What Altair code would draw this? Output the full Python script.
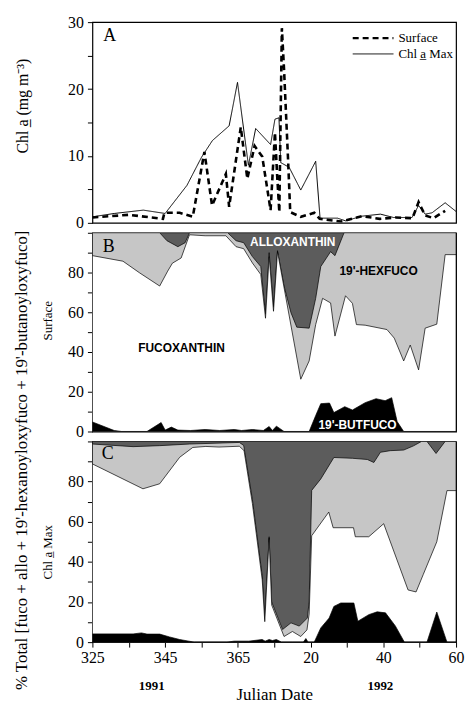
import altair as alt
import pandas as pd

SERIF = "Liberation Serif"
SANS = "Liberation Sans"
LIGHT = "#c6c6c6"
DARK = "#5c5c5c"
W = 366

# x positions are days counted from 1 Jan 1991: 325-365 fall in 1991,
# 366-425 are Julian days 1-60 of 1992.
X_DOMAIN = [325, 425]

# ---- Panel A: chlorophyll a (mg m-3) ----
surface_t = [325, 335, 344.4, 344.8, 349, 352.6, 355.8, 357.9, 361.7, 362.6,
             365.8, 367.6, 369.6, 371.7, 374.0, 375.2, 375.8, 376.4, 377.1, 377.7,
             378.8, 379.4, 382.3, 386.0, 387.5, 393.4, 399.2, 404.0, 408.4, 413.0,
             414.7, 416.5, 418.8, 422.0]
surface_chl = [0.8, 1.2, 0.6, 1.5, 1.5, 0.9, 10.6, 2.6, 7.3, 2.4,
               14.3, 6.6, 11.5, 9.9, 1.9, 13.5, 7.1, 1.6, 29.1, 22.9,
               9.5, 1.6, 0.9, 1.5, 0.6, 0.2, 1.0, 0.6, 0.8, 0.7,
               3.1, 1.1, 0.7, 1.8]

chlmax_t = [325, 331, 339, 345, 351, 355, 358, 362.6, 364.9,
            367.9, 369.9, 374.0, 375.2, 376.3, 376.8, 379.1, 382.3, 386.4, 387.6,
            392.4, 394.6, 399.2, 404.2, 407.8, 412.9, 414.7, 416.5, 418.4, 422, 425]
chlmax_chl = [0.9, 1.4, 1.9, 1.4, 5.6, 9.8, 12.3, 14.5, 21.0,
              8.6, 14.1, 11.7, 15.5, 15.7, 9.0, 8.3, 4.9, 9.2, 0.7,
              0.7, 0.3, 1.0, 1.3, 0.8, 0.8, 2.6, 1.3, 1.5, 3.0, 1.7]

SERIES = ["Surface", "Chl a\u0332 Max"]

# ---- Panels B and C: cumulative % of total [fuco + allo + hexfuco + butfuco] ----
# stacking order from the bottom: butfuco, fucoxanthin, hexfuco, alloxanthin (to 100 %)
total_t = [325, 425]
total_pct = [100, 100]

b_but_t = [325, 331, 333, 340, 343.9, 345, 346.7, 348.5, 352, 356,
           360, 364, 366, 369, 372, 373.6, 374.5, 375.6, 377.7, 384.6,
           386.4, 387.8, 390.2, 391.4, 394.4, 396.5, 400, 403, 405.5, 407.3,
           408.8, 410.6, 425]
b_but_top = [4.8, 0.5, 0, 0, 4.5, 0.7, 2.2, 0.7, 0.5, 1.0,
             0.5, 1.0, 0.5, 1.0, 0.5, 2.5, 0.5, 2.7, 0, 0,
             8, 14, 14.3, 9.5, 12.5, 10.8, 14.5, 16.5, 15.5, 17,
             5, 0, 0]

b_fuco_t = [325, 333.4, 338, 343.5, 345.7, 347, 349.4, 351.7, 356, 361.7,
            364.5, 366.6, 369, 371.3, 372.6, 373.6, 374.8, 375.9, 382.3, 384.6,
            386.4, 388.3, 390.5, 391.7, 394.6, 396.5, 397.6, 400, 406, 408,
            410.6, 412.4, 414.7, 416.5, 419.7, 422, 425]
b_fuco_top = [88.5, 85.7, 79.8, 73.2, 80.7, 84.7, 87.3, 99, 98.5, 98.5,
              93, 92, 84.8, 79, 57, 88, 60.5, 90.5, 26.3, 35.5,
              53.8, 67, 64.7, 48, 68.3, 64.5, 53.8, 53.5, 51.3, 47,
              35.5, 43.5, 31, 52, 54, 89, 89]

b_hex_t = [325, 343.5, 345.5, 348.5, 350.5, 351.7, 362.2, 364.5, 366.6, 369,
           371.3, 372.6, 373.6, 374.8, 375.9, 377.7, 379.6, 381.2, 384.6, 386.4,
           387.8, 390.5, 391.7, 394.2, 425]
b_hex_top = [100, 100, 96, 93, 95, 100, 100, 96, 95, 88,
             83, 59, 90, 62.5, 91, 73.2, 59.8, 52.5, 52, 67,
             83, 90.5, 88.5, 100, 100]

c_but_t = [325, 336.2, 338.5, 340, 343.5, 346.2, 349, 351.5, 353, 362,
           364, 368, 371.7, 372.5, 373.6, 374.5, 375.6, 377, 383, 383.7,
           384.3, 386, 387.8, 390.1, 391.4, 393.3, 396.9, 398, 401, 403.3,
           405.6, 408.3, 410.8, 417, 419.7, 422.5, 425]
c_but_top = [4.1, 4.1, 4.6, 4.0, 4.0, 2.6, 1.3, 0.5, 0, 0,
             0.5, 0.5, 1.3, 0.5, 1.3, 0.8, 1.3, 0, 0, 1.8,
             0, 0, 7.1, 12, 17.8, 19.5, 19.5, 10.4, 13.7, 15.1,
             14.6, 8.1, 0, 0, 15, 0, 0]

c_fuco_t = [325, 338.9, 343.5, 349, 352.6, 356.2, 359.8, 365.4, 366.7, 369,
            371.7, 372.4, 373.6, 374.3, 377.7, 380, 382.3, 384, 384.6, 385.3,
            390, 391.2, 396.8, 397.3, 401, 405.1, 411.8, 414, 416, 419.7,
            422.5, 425]
c_fuco_top = [88.8, 76.4, 78.9, 92.1, 97, 97.5, 97.2, 97.6, 95.4, 69,
              31, 10.2, 51.8, 18.5, 2.8, 5.3, 2.8, 6.1, 14, 53,
              64.8, 57, 57, 52.5, 52.5, 59, 26, 25, 33.8, 50,
              75.5, 75.5]

c_hex_t = [325, 336.2, 343.5, 351.7, 365.4, 366.6, 369, 371.7, 372.4, 373.6,
           374.3, 377.3, 379.6, 381.9, 384.1, 384.6, 385.3, 387.8, 391.4, 396.5,
           400.6, 402.4, 404.2, 406.9, 410.6, 413.3, 415.5, 417, 419.5, 422,
           425]
c_hex_top = [98.7, 97.4, 97.9, 98.7, 99.5, 98, 71, 33, 11.5, 52.5,
             20, 6.3, 9.6, 8, 12, 20, 75.6, 81.3, 92, 91.6,
             91, 89.5, 94.6, 95.4, 95.7, 97.8, 100, 100, 94, 100,
             100]

# pigment names written inside panel B
pig_names = ["FUCOXANTHIN", "ALLOXANTHIN", "19'-HEXFUCO", "19'-BUTFUCO"]
pig_t = [349.5, 380.1, 403.7, 397.9]
pig_pct = [42, 95.5, 81, 3.5]
pig_colors = ["black", "white", "black", "white"]

year_names = ["1991", "1992"]
year_t = [341.3, 404.2]

BIG_TITLE = "% Total [fuco + allo + 19'-hexanoyloxyfuco + 19'-butanoyloxyfuco]"

x_scale = alt.Scale(domain=X_DOMAIN, nice=False, zero=False)
pct_scale = alt.Scale(domain=[0, 100], nice=False)
chl_scale = alt.Scale(domain=[0, 30], nice=False)


def pct_axis(title, title_y):
    return alt.Axis(values=list(range(0, 101, 10)),
                    labelExpr="datum.value % 20 == 0 && datum.value < 100 ? datum.label : ''",
                    tickSize=5, labelPadding=4, labelFont=SERIF, labelFontSize=16,
                    labelOverlap=False,
                    title=title, titleFont=SERIF, titleFontSize=13,
                    titleFontWeight="normal", titleX=-45.5, titleY=title_y,
                    titleAngle=270, titleAlign="center", titleBaseline="middle")


x_axis_c = alt.Axis(values=list(range(325, 426, 10)),
                    labelExpr="(datum.value - 325) % 20 == 0 ? "
                              "(datum.value > 365 ? datum.value - 365 : datum.value) + '' : ''",
                    tickSize=5, labelPadding=3, labelFont=SERIF, labelFontSize=16,
                    labelOverlap=False, labelFlush=False,
                    title="Julian Date", titleFont=SERIF, titleFontSize=17,
                    titleFontWeight="normal", titleY=53, titleBaseline="middle")

chl_axis = alt.Axis(values=list(range(0, 31, 5)),
                    labelExpr="datum.value % 10 == 0 ? datum.label : ''",
                    tickSize=5, labelPadding=4, labelFont=SERIF,
                    labelFontSize=16, labelOverlap=False,
                    title="Chl a\u0332 (mg m\u207b\u00b3)", titleFont=SERIF,
                    titleFontSize=16, titleFontWeight="normal",
                    titleX=-70, titleY=84, titleAngle=270,
                    titleAlign="center", titleBaseline="middle")


def area(t, top, color, x_axis, y_axis):
    df = pd.DataFrame({"t": t, "pct": top})
    return alt.Chart(df).mark_area(color=color, stroke="black", strokeWidth=0.7,
                                   clip=True).encode(
        x=alt.X("t:Q", scale=x_scale, axis=x_axis),
        y=alt.Y("pct:Q", scale=pct_scale, axis=y_axis),
    )


def letter(ch, x, y):
    return alt.Chart(pd.DataFrame({"s": [ch]})).mark_text(
        font=SERIF, fontSize=18, color="black").encode(
        x=alt.value(x), y=alt.value(y), text="s:N")


def legend_row(name, dash, width, y):
    # one key entry: a short line sample followed by its label
    row = pd.DataFrame({"s": [name]})
    sample = alt.Chart(row).mark_rule(color="black", strokeDash=dash,
                                      strokeWidth=width).encode(
        x=alt.value(262), x2=alt.value(303), y=alt.value(y))
    label = alt.Chart(row).mark_text(font=SERIF, fontSize=13, align="left",
                                     baseline="middle", color="black").encode(
        x=alt.value(308), y=alt.value(y), text="s:N")
    return sample + label


# ---- Panel A ----
a_df = pd.concat([
    pd.DataFrame({"t": surface_t, "chl": surface_chl, "series": SERIES[0]}),
    pd.DataFrame({"t": chlmax_t, "chl": chlmax_chl, "series": SERIES[1]}),
])
lines = alt.Chart(a_df).mark_line(clip=True, color="black").encode(
    x=alt.X("t:Q", scale=x_scale, axis=None),
    y=alt.Y("chl:Q", scale=chl_scale, axis=chl_axis),
    detail="series:N",
    strokeDash=alt.StrokeDash("series:N", scale=alt.Scale(domain=SERIES,
                                                          range=[[6, 4], [1, 0]]),
                              legend=None),
    strokeWidth=alt.StrokeWidth("series:N", scale=alt.Scale(domain=SERIES,
                                                            range=[2.6, 1.0]),
                                legend=None),
)
panel_a = alt.layer(
    lines,
    legend_row(SERIES[0], [6, 4], 2.2, 16),
    legend_row(SERIES[1], [1, 0], 1.0, 32),
    letter("A", 17.5, 14),
).properties(width=W, height=202)

# ---- Panel B: surface ----
pig_df = pd.DataFrame({"t": pig_t, "pct": pig_pct, "name": pig_names, "col": pig_colors})
b_yaxis = pct_axis("Surface", 88)
pig_text = alt.Chart(pig_df).mark_text(font=SANS, fontWeight="bold", fontSize=12).encode(
    x=alt.X("t:Q", scale=x_scale, axis=None),
    y=alt.Y("pct:Q", scale=pct_scale, axis=b_yaxis),
    text="name:N",
    color=alt.Color("col:N", scale=None),
)
panel_b = alt.layer(
    area(total_t, total_pct, DARK, None, b_yaxis),
    area(b_hex_t, b_hex_top, LIGHT, None, b_yaxis),
    area(b_fuco_t, b_fuco_top, "white", None, b_yaxis),
    area(b_but_t, b_but_top, "black", None, b_yaxis),
    pig_text,
    letter("B", 16.5, 14),
).properties(width=W, height=200)

# ---- Panel C: chlorophyll maximum ----
c_yaxis = pct_axis("Chl a\u0332 Max", 111)
year_df = pd.DataFrame({"t": year_t, "name": year_names})
year_text = alt.Chart(year_df).mark_text(font=SERIF, fontWeight="bold", fontSize=13).encode(
    x=alt.X("t:Q", scale=x_scale, axis=x_axis_c),
    y=alt.value(246),
    text="name:N",
)
big_title = alt.Chart(pd.DataFrame({"s": [BIG_TITLE]})).mark_text(
    font=SERIF, fontSize=17, angle=270, align="center", baseline="middle").encode(
    x=alt.value(-70.5), y=alt.value(19), text="s:N")

panel_c = alt.layer(
    area(total_t, total_pct, DARK, x_axis_c, c_yaxis),
    area(c_hex_t, c_hex_top, LIGHT, x_axis_c, c_yaxis),
    area(c_fuco_t, c_fuco_top, "white", x_axis_c, c_yaxis),
    area(c_but_t, c_but_top, "black", x_axis_c, c_yaxis),
    year_text,
    big_title,
    letter("C", 15.5, 13),
).properties(width=W, height=202)

chart = alt.vconcat(panel_a, panel_b, panel_c, spacing=10, bounds="flush").properties(
    padding={"left": 12, "top": 11, "right": 0, "bottom": 0},
    background="white",
).configure_view(stroke="black", strokeWidth=1.2).configure_axis(
    domain=False, grid=False, tickColor="black", labelColor="black", titleColor="black",
    tickWidth=1,
)

chart.save("out.html", embed_options={"renderer": "svg", "actions": False})
